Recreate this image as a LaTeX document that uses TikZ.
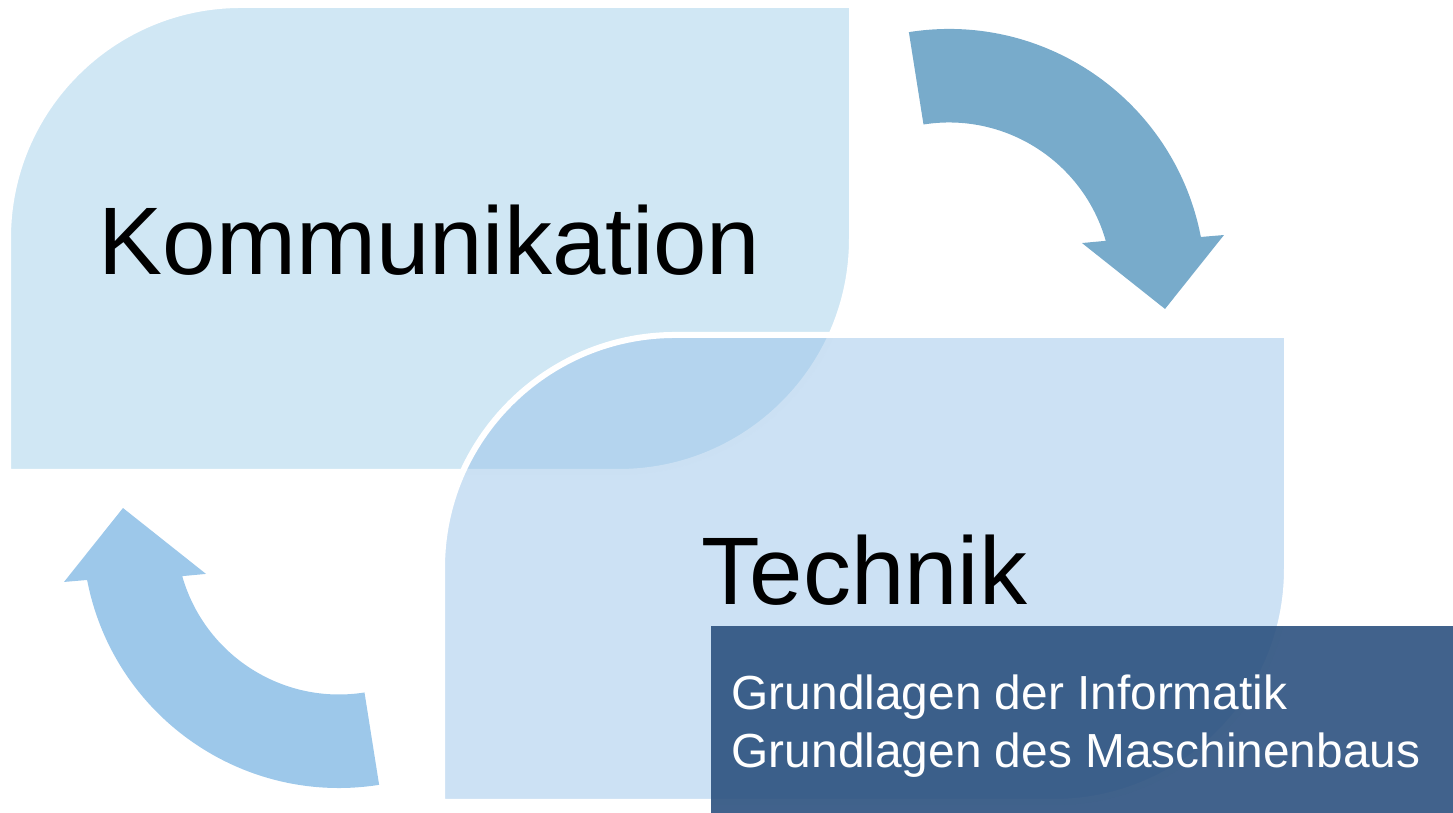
\documentclass[tikz,border=0pt]{standalone}
\usepackage{fontspec}
\setmainfont{Liberation Sans}
\definecolor{kommblue}{RGB}{208,231,244}
\definecolor{techblue}{RGB}{153,195,233}
\definecolor{arrowdark}{RGB}{120,171,203}
\definecolor{arrowlight}{RGB}{157,200,234}
\definecolor{boxblue}{RGB}{44,81,127}
\begin{document}
\begin{tikzpicture}[x=0.01cm,y=0.01cm,
    panel/.style={draw=white,line width=0.06cm},
    bigword/.style={anchor=base west,inner sep=0pt,font=\fontsize{27.3pt}{32pt}\selectfont},
    smallword/.style={anchor=base west,inner sep=0pt,text=white,font=\fontsize{13.6pt}{16pt}\selectfont}]
        \useasboundingbox (0,0) rectangle (1453,813);
        % the two panels
        \draw[panel,fill=kommblue] (8,341) -- (8,575) arc (180:90:233) -- (852,808) -- (852,574) arc (0:-90:233) -- cycle;
        \draw[panel,fill=techblue,fill opacity=0.5] (442,11) -- (442,245) arc (180:90:233) -- (1287,478) -- (1287,244) arc (0:-90:233) -- cycle;
        % the two curved arrows
	\foreach \rot/\col in {0/arrowdark,180/arrowlight}
	  \fill[\col,rotate around={\rot:(644,404.5)},shift={(949,527.5)}] (99:256.5) arc (99:10.9:256.5) -- (10.4:279.6) -- (-6.2:217.3) -- (17.7:139.6) -- (15.9:163) arc (15.9:99:163) -- cycle;
        \fill[boxblue,fill opacity=0.9] (711,0) rectangle (1453,187);
        \node[bigword] (komm) at (98,538) {Kommunikation};
        \node[bigword] (tech) at (701,208) {Technik};
        \node[smallword] (inf) at (731,103) {Grundlagen der Informatik};
        \node[smallword] (mb) at (731,45) {Grundlagen des Maschinenbaus};
             \end{tikzpicture}
\end{document}
